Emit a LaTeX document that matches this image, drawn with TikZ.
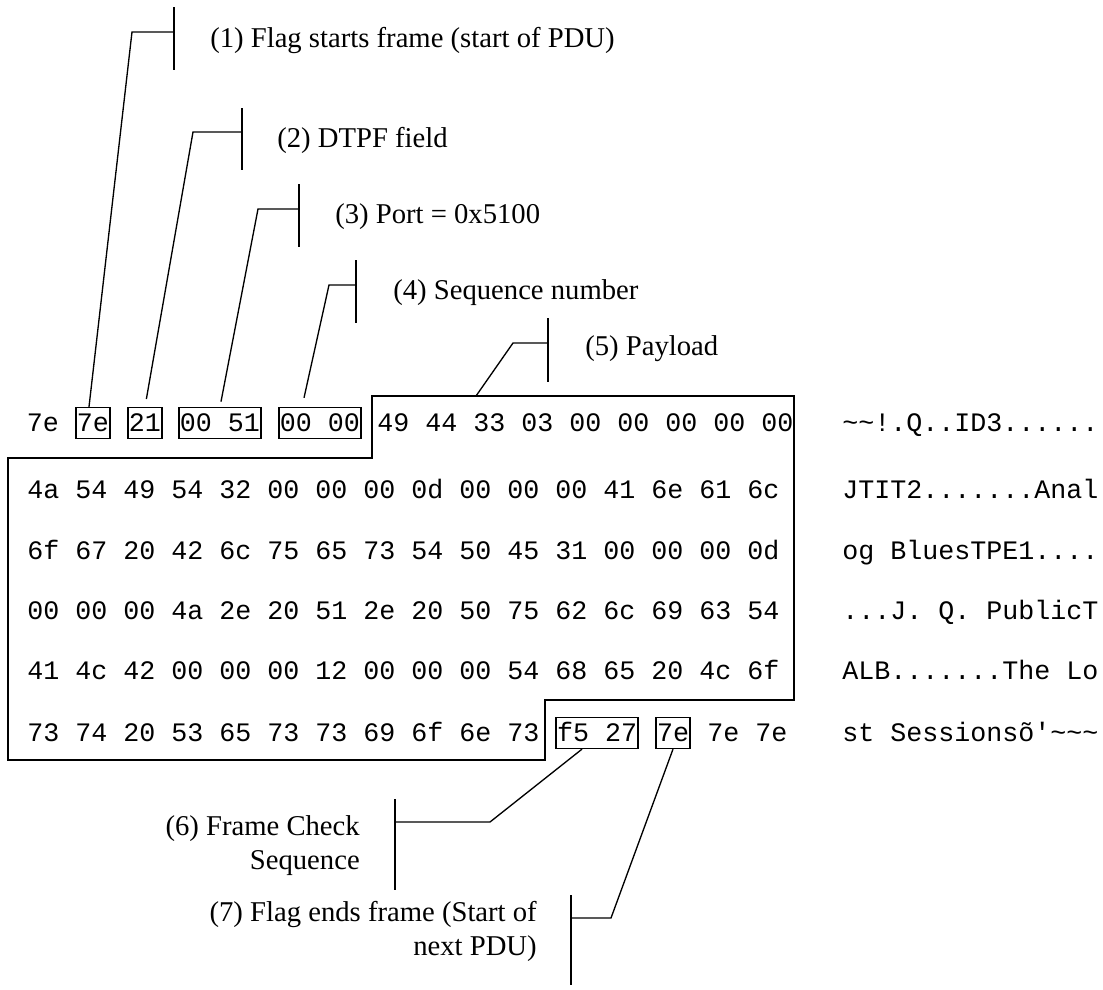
\documentclass[tikz,border=0pt]{standalone}
\usepackage{fontspec}
\setmainfont{Liberation Serif}
\setmonofont{Liberation Mono}
\usetikzlibrary{calc}

\tikzset{
  hex/.style={font=\ttfamily\fontsize{20}{24}\selectfont, inner sep=0pt, text height=12.6pt, text depth=0pt},
  fld/.style={hex, draw, line width=1.2pt, inner xsep=0.75pt, minimum height=23pt},
  lbl/.style={font=\fontsize{21.5}{25.5}\selectfont, inner sep=0pt},
  lead/.style={line width=1pt},
  payload/.style={line width=1.5pt}
}

\begin{document}
\begin{tikzpicture}[x=0.75pt,y=0.75pt,yscale=-1,xscale=1]
\useasboundingbox (0,0) rectangle (1103,989);

% row 1 with the header fields
\node[hex] (r1a) at (43,423) {7e};
\node[fld] (f1) at (93,423) {7e};
\node[fld] (f2) at (145,423) {21};
\node[fld] (f3) at (220,423) {00 51};
\node[fld] (f4) at (320,423) {00 00};
\node[hex, anchor=west] (r1b) at (377,423) {49 44 33 03 00 00 00 00 00};

% rows 2 to 5
\node[hex, anchor=west] (r2) at (27,490) {4a 54 49 54 32 00 00 00 0d 00 00 00 41 6e 61 6c};
\node[hex, anchor=west] (r3) at (27,551) {6f 67 20 42 6c 75 65 73 54 50 45 31 00 00 00 0d};
\node[hex, anchor=west] (r4) at (27,611) {00 00 00 4a 2e 20 51 2e 20 50 75 62 6c 69 63 54};
\node[hex, anchor=west] (r5) at (27,671) {41 4c 42 00 00 00 12 00 00 00 54 68 65 20 4c 6f};

% row 6 with the trailer
\node[hex, anchor=west] (r6a) at (27,733) {73 74 20 53 65 73 73 69 6f 6e 73};
\node[fld] (f6) at (597,733) {f5 27};
\node[fld] (f7) at (673,733) {7e};
\node[hex, anchor=west] (r6b) at (707,733) {7e 7e};

% ascii column
\node[hex, anchor=west] (a1) at (842,423) {\textasciitilde\textasciitilde!.Q..ID3......};
\node[hex, anchor=west] (a2) at (842,490) {JTIT2.......Anal};
\node[hex, anchor=west] (a3) at (842,551) {og BluesTPE1....};
\node[hex, anchor=west] (a4) at (842,611) {...J. Q. PublicT};
\node[hex, anchor=west] (a5) at (842,671) {ALB.......The Lo};
\node[hex, anchor=west] (a6) at (842,733) {st Sessionsõ\textquotesingle\textasciitilde\textasciitilde\textasciitilde};

% payload outline
\draw[payload] (372,396) -- (794,396) -- (794,700) -- (545,700) -- (545,760)
  -- (8,760) -- (8,458) -- (372,458) -- cycle;
\coordinate (pl) at (476,396);

% labels
\node[lbl, anchor=west] (lab1) at (210,40) {(1) Flag starts frame (start of PDU)};
\node[lbl, anchor=west] (lab2) at (277,140) {(2) DTPF field};
\node[lbl, anchor=west] (lab3) at (335,217) {(3) Port = 0x5100};
\node[lbl, anchor=west] (lab4) at (393,293) {(4) Sequence number};
\node[lbl, anchor=west] (lab5) at (585,349) {(5) Payload};
\node[lbl, anchor=east, align=right] (lab6) at (360,846) {(6) Frame Check\\Sequence};
\node[lbl, anchor=east, align=right] (lab7) at (537,931) {(7) Flag ends frame (Start of\\next PDU)};

% ticks and bends
\coordinate (t1a) at (174,7);   \coordinate (t1b) at (174,70);  \coordinate (k1) at (174,32);  \coordinate (e1) at (132,32);
\coordinate (t2a) at (242,108); \coordinate (t2b) at (242,170); \coordinate (k2) at (242,132); \coordinate (e2) at (193,132);
\coordinate (t3a) at (299,184); \coordinate (t3b) at (299,247); \coordinate (k3) at (299,209); \coordinate (e3) at (258,209);
\coordinate (t4a) at (356,260); \coordinate (t4b) at (356,323); \coordinate (k4) at (356,285); \coordinate (e4) at (329,285);
\coordinate (t5a) at (548,318); \coordinate (t5b) at (548,382); \coordinate (k5) at (548,343); \coordinate (e5) at (513,343);
\coordinate (t6a) at (395,799); \coordinate (t6b) at (395,890); \coordinate (k6) at (395,822); \coordinate (e6) at (490,822);
\coordinate (t7a) at (571,895); \coordinate (t7b) at (571,985); \coordinate (k7) at (571,918); \coordinate (e7) at (611,918);

\foreach \i in {1,...,7}
  \draw[lead] (t\i a) -- (t\i b);

% leaders
\draw[lead] (k1) -- (e1) -- ($(f1.north)+(-4,0)$);
\draw[lead, shorten >=6pt] (k2) -- (e2) -- (f2.north);
\draw[lead, shorten >=4pt] (k3) -- (e3) -- (f3.north);
\draw[lead, shorten >=7pt] (k4) -- (e4) -- ($(f4.north)+(-18,0)$);
\draw[lead] (k5) -- (e5) -- (pl);
\draw[lead] (k6) -- (e6) -- ($(f6.south)+(-15,0)$);
\draw[lead] (k7) -- (e7) -- (f7.south);

\end{tikzpicture}
\end{document}
